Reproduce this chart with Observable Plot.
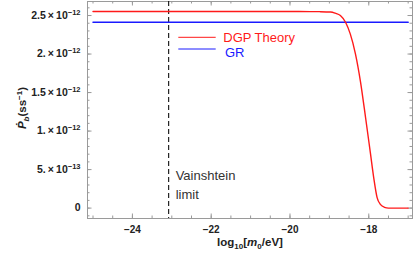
<!DOCTYPE html>
<html><head><meta charset="utf-8">
<script src="https://cdn.jsdelivr.net/npm/d3@7"></script>
<script src="https://cdn.jsdelivr.net/npm/@observablehq/plot@0.6"></script>
<style>
body{margin:0;background:#fff;}
svg{display:block;font-family:"Liberation Sans",Arial,sans-serif;}
</style>
</head><body><div id="chart"></div>
<script>
// ---- data ----
const dgpLogM = [-25, -20, -19.5, -19.25, -18.97, -18.85, -18.72, -18.59, -18.47, -18.34, -18.21, -18.08, -17.96, -17.87, -17.79, -17.7, -17.6, -17.5, -17.0];
const dgpPdot = [2.552e-12, 2.552e-12, 2.551e-12, 2.550e-12, 2.546e-12, 2.53e-12, 2.50e-12, 2.413e-12, 2.262e-12, 2.006e-12, 1.64e-12, 1.17e-12, 0.72e-12, 0.38e-12, 0.14e-12, 0.045e-12, 0.01e-12, 0.0, 0.0];
const grLogM = [-25, -17];
const grPdot = [2.413e-12, 2.413e-12];
const vainshteinLogM = -23.08;
const xTicks = [-24, -22, -20, -18];
const xTickLabels = ["−24", "−22", "−20", "−18"];
const yTicks = [0, 5e-13, 1e-12, 1.5e-12, 2e-12, 2.5e-12];
const yTickLabels = ["0", "5.\u2009×\u200910^−13", "1.\u2009×\u200910^−12", "1.5\u2009×\u200910^−12", "2.\u2009×\u200910^−12", "2.5\u2009×\u200910^−12"];
const seriesNames = ["DGP Theory", "GR"];
const seriesColors = ["#ff1a1a", "#1a1aff"];
const annotation = "Vainshtein\nlimit";

// ---- layout ----
const W = 415, H = 253, mL = 87, mR = 3, mT = 1, mB = 35;
const innerW = W - mL - mR, innerH = H - mT - mB;
const frameColor = "#9a9a9a";
const dgp = dgpLogM.map((x, i) => ({x, y: dgpPdot[i]}));
const gr = grLogM.map((x, i) => ({x, y: grPdot[i]}));
const xMinor = d3.range(-50, -33).map(i => i / 2);
const yMinor = d3.range(-1, 27).map(i => i * 1e-13);
const majLen = 4.5, minLen = 2.5;

const chart = Plot.plot({
  width: W, height: H,
  marginLeft: mL, marginRight: mR, marginTop: mT, marginBottom: mB,
  x: {domain: [-25.14, -16.89]},
  y: {domain: [-0.135e-12, 2.682e-12]},
  marks: [
    Plot.frame({stroke: frameColor}),
    // inward ticks on all four sides
    Plot.tickX(xMinor, {x: d => d, stroke: frameColor, insetTop: innerH - minLen}),
    Plot.tickX(xTicks, {x: d => d, stroke: frameColor, insetTop: innerH - majLen}),
    Plot.tickX(xMinor, {x: d => d, stroke: frameColor, insetBottom: innerH - minLen}),
    Plot.tickX(xTicks, {x: d => d, stroke: frameColor, insetBottom: innerH - majLen}),
    Plot.tickY(yMinor, {y: d => d, stroke: frameColor, insetRight: innerW - minLen}),
    Plot.tickY(yTicks, {y: d => d, stroke: frameColor, insetRight: innerW - majLen}),
    Plot.tickY(yMinor, {y: d => d, stroke: frameColor, insetLeft: innerW - minLen}),
    Plot.tickY(yTicks, {y: d => d, stroke: frameColor, insetLeft: innerW - majLen}),
    Plot.ruleX([vainshteinLogM], {x: d => d, stroke: "#111", strokeWidth: 1.1, strokeDasharray: "5,3"}),
    Plot.line(gr, {x: "x", y: "y", stroke: seriesColors[1], strokeWidth: 1.5}),
    Plot.line(dgp, {x: "x", y: "y", stroke: seriesColors[0], strokeWidth: 1.4, curve: "monotone-x"}),
    Plot.axisX({ticks: xTicks, tickFormat: d => xTickLabels[xTicks.indexOf(d)], tickSize: 0, tickPadding: 7.5,
      fontSize: 10, fontWeight: "bold", fill: "#222", label: null}),
    Plot.axisY({ticks: yTicks, tickFormat: d => yTickLabels[yTicks.indexOf(d)], tickSize: 0, tickPadding: 7,
      fontSize: 10.5, fontWeight: "bold", fill: "#222", label: null}),
    Plot.text([annotation], {x: () => vainshteinLogM, text: d => d, frameAnchor: "bottom",
      textAnchor: "start", lineAnchor: "bottom", dx: 7, dy: -20, lineHeight: 1.42,
      fontSize: 13, fill: "#333"})
  ]
});

const svg = d3.select(chart);
// superscript exponents on y tick labels
svg.selectAll('g[aria-label="y-axis tick label"] text').each(function() {
  const t = d3.select(this);
  const s = t.text();
  if (s.includes("^")) {
    const [base, exp] = s.split("^");
    t.text(base);
    t.append("tspan").attr("font-size", 7.5).attr("dy", -4).text(exp);
  }
});

// axis labels
const xl = svg.append("text").attr("x", 250).attr("y", 246).attr("text-anchor", "middle")
  .attr("font-size", 11.5).attr("font-weight", "bold").attr("fill", "#222");
xl.append("tspan").text("log");
xl.append("tspan").attr("font-size", 8).attr("dy", 3).text("10");
xl.append("tspan").attr("dy", -3).text("[");
xl.append("tspan").attr("font-style", "italic").text("m");
xl.append("tspan").attr("font-size", 8).attr("dy", 3).text("0");
xl.append("tspan").attr("dy", -3).text("/eV]");

const yl = svg.append("text").attr("transform", "translate(26,108) rotate(-90)").attr("text-anchor", "middle")
  .attr("font-size", 11.5).attr("font-weight", "bold").attr("fill", "#222");
yl.append("tspan").attr("font-style", "italic").text("Ṗ");
yl.append("tspan").attr("font-style", "italic").attr("font-size", 8).attr("dy", 3).text("b");
yl.append("tspan").attr("dy", -3).text("(ss");
yl.append("tspan").attr("font-size", 8).attr("dy", -4).text("−1");
yl.append("tspan").attr("dy", 4).text(")");

// legend
const lg = svg.append("g").attr("text-anchor", "start");
[[37.3, 41.7, 223.3], [49, 56.7, 225]].forEach(([ly, ty, tx], i) => {
  lg.append("line").attr("x1", 178.3).attr("x2", 215.7).attr("y1", ly).attr("y2", ly)
    .attr("stroke", seriesColors[i]).attr("stroke-width", 1);
  lg.append("text").attr("x", tx).attr("y", ty).attr("text-anchor", "start")
    .attr("font-size", 13).attr("fill", seriesColors[i]).text(seriesNames[i]);
});

document.getElementById("chart").appendChild(chart);
</script>
</body></html>
